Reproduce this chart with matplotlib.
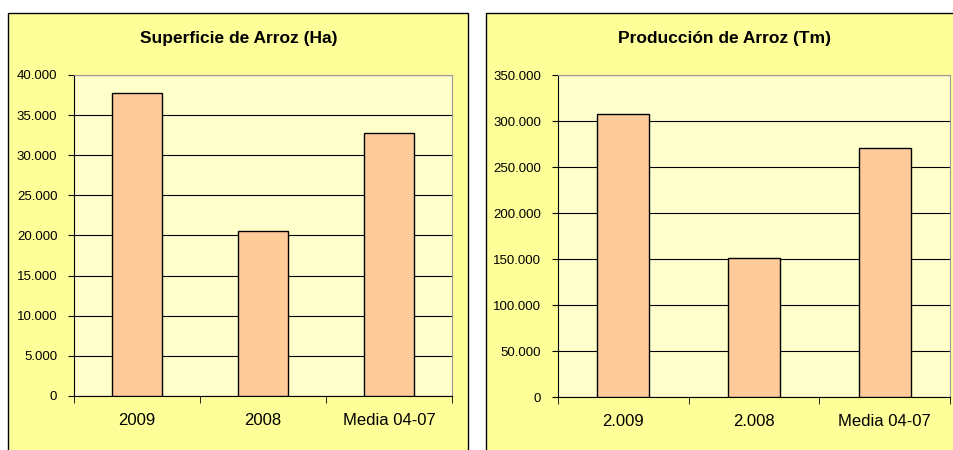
import matplotlib.pyplot as plt
from matplotlib.patches import Rectangle

plt.rcParams["font.family"] = ["Liberation Sans", "DejaVu Sans"]

# Superficie (Ha)
area_labels = ["2009", "2008", "Media 04-07"]
area_values = [37750, 20600, 32780]
area_ticks = [0, 5000, 10000, 15000, 20000, 25000, 30000, 35000, 40000]

# Produccion (Tm)
prod_labels = ["2.009", "2.008", "Media 04-07"]
prod_values = [307500, 150800, 271000]
prod_ticks = [0, 50000, 100000, 150000, 200000, 250000, 300000, 350000]

PANEL = "#FFFF99"
PLOT_BG = "#FFFFCC"
BAR = "#FFCC99"

W, H = 954, 450


def fmt(v):
    return f"{v:,.0f}".replace(",", ".")


def panel(fig, x0, x1, y0):
    fig.patches.append(
        Rectangle((x0 / W, -0.05), (x1 - x0) / W, 1.05 - y0 / H,
                  transform=fig.transFigure, facecolor=PANEL,
                  edgecolor="black", linewidth=1.0, zorder=-5)
    )


def bar_chart(fig, rect, title, title_x, labels, values, ticks):
    ax = fig.add_axes(rect)
    ax.set_facecolor(PLOT_BG)
    x = range(len(values))
    ax.bar(x, values, width=0.4, color=BAR, edgecolor="black", linewidth=1.0, zorder=3)
    ax.set_xlim(-0.5, len(values) - 0.5)
    ax.set_ylim(0, ticks[-1])
    ax.set_yticks(ticks)
    ax.set_yticklabels([fmt(t) for t in ticks], fontsize=9.5)
    ax.set_xticks(list(x))
    ax.set_xticklabels(labels, fontsize=12)
    ax.set_xticks([i - 0.5 for i in range(len(values) + 1)], minor=True)
    ax.tick_params(axis="x", which="major", length=0, pad=12)
    ax.tick_params(axis="x", which="minor", length=5, direction="out")
    ax.tick_params(axis="y", length=4, direction="out", pad=8)
    ax.grid(axis="y", color="black", linewidth=0.8, zorder=1)
    for side in ("top", "right"):
        ax.spines[side].set_color("#999999")
    for side in ("left", "bottom"):
        ax.spines[side].set_color("black")
    fig.text(title_x / W, 1 - 38 / H, title, fontsize=12.5, fontweight="bold",
             ha="center", va="center")
    return ax


fig = plt.figure(figsize=(W / 100, H / 100), dpi=100)
fig.patch.set_facecolor("white")

panel(fig, 8, 468, 13)
panel(fig, 486, 980, 13)

bar_chart(fig, [74 / W, (H - 396) / H, (452 - 74) / W, (396 - 75) / H],
          "Superficie de Arroz (Ha)", 239, area_labels, area_values, area_ticks)
bar_chart(fig, [558 / W, (H - 397) / H, (950 - 558) / W, (397 - 75) / H],
          "Producción de Arroz (Tm)", 725, prod_labels, prod_values, prod_ticks)

fig.savefig("out.png", dpi=100)
